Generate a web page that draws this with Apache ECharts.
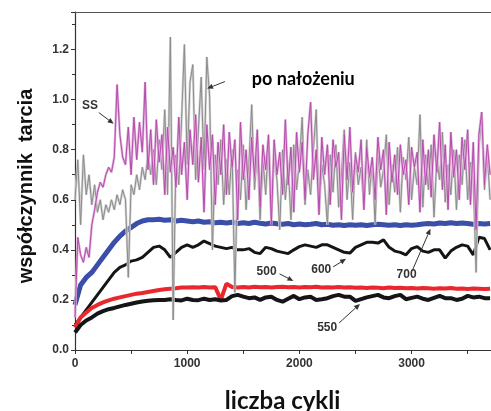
<!DOCTYPE html>
<html><head><meta charset="utf-8">
<script src="https://cdn.jsdelivr.net/npm/echarts@6/dist/echarts.min.js"></script>
<style>html,body{margin:0;padding:0;background:#fff}#c{width:491px;height:411px}</style>
</head><body><div id="c"></div>
<script>
const FINE_STEP = 25;
const COARSE_STEP = 50;

// SS (magenta), every 25 cycles from 0 to 3700
const ssValues = [
0.13,0.45,0.38,0.35,0.41,0.37,0.50,0.56,0.63,0.67,0.65,0.70,0.73,0.71,0.77,1.06,0.86,0.77,0.74,0.89,
0.70,0.93,0.76,0.91,0.79,1.07,0.72,0.88,0.66,0.92,0.75,0.86,0.62,0.89,0.71,0.81,0.65,0.93,0.70,0.83,
0.60,0.88,0.74,0.94,0.67,0.85,0.55,0.90,0.72,0.86,0.58,0.83,0.70,0.90,0.62,0.87,0.73,0.84,0.52,0.91,
0.68,0.80,0.60,0.85,0.69,0.88,0.57,0.82,0.72,0.86,0.50,0.84,0.70,0.79,0.62,0.92,0.66,0.81,0.55,0.87,
0.71,0.83,0.60,0.86,0.99,0.68,0.80,0.54,0.85,0.70,0.82,0.58,0.84,0.73,0.79,0.52,0.86,0.68,0.89,0.63,
0.78,0.71,0.84,0.56,0.81,0.69,0.77,0.60,0.85,0.72,0.80,0.54,0.83,0.67,0.78,0.62,0.82,0.70,0.76,0.58,
0.81,0.73,0.79,0.55,0.84,0.66,0.80,0.61,0.86,0.71,0.91,0.64,0.82,0.56,0.87,0.69,0.80,0.60,0.85,0.72,
0.88,0.58,0.83,0.48,0.86,0.95,0.66,0.82,0.70
];

// "po nałożeniu" (grey), every 25 cycles from 0 to 3700
const coatedValues = [
0.60,0.76,0.50,0.78,0.62,0.70,0.58,0.66,0.55,0.60,0.52,0.58,0.55,0.60,0.56,0.62,0.58,0.64,0.60,0.29,
0.66,0.62,0.70,0.64,0.73,0.68,0.78,0.70,0.80,0.66,0.84,0.72,0.96,0.62,1.25,0.12,0.78,0.66,0.92,1.22,
0.74,1.07,1.14,0.68,0.88,1.09,0.72,1.17,1.01,0.40,0.78,0.66,0.84,0.58,0.76,0.62,0.80,0.23,0.72,0.60,
0.82,0.56,0.74,0.98,0.64,0.80,0.52,0.76,0.62,0.84,0.55,0.78,0.68,0.48,0.80,0.60,0.74,0.52,0.82,0.64,
0.75,0.93,0.58,0.72,0.62,0.80,0.96,0.55,0.74,0.66,0.50,0.78,0.63,0.82,0.57,0.70,0.88,0.60,0.75,0.52,
0.79,0.66,0.73,0.58,0.84,0.62,0.76,0.50,0.80,0.65,0.72,0.86,0.58,0.74,0.63,0.81,0.55,0.77,0.68,0.85,
0.60,0.73,0.66,0.94,0.57,0.78,0.64,0.82,0.53,0.76,0.68,0.87,0.59,0.74,0.62,0.80,0.56,0.78,0.66,0.84,
0.60,0.75,0.68,0.31,0.80,0.95,0.64,0.78,0.60
];

// 700 (blue), every 50 cycles from 0 to 3700
const t700 = [
0.18,0.26,0.29,0.31,0.34,0.37,0.40,0.43,0.455,0.475,0.49,0.505,0.515,0.52,0.52,
0.522,0.518,0.52,0.515,0.518,0.515,0.512,0.515,0.51,0.512,0.508,0.51,0.507,0.51,0.505,
0.508,0.505,0.51,0.506,0.503,0.507,0.504,0.502,0.505,0.50,0.503,0.50,0.502,0.505,0.50,
0.502,0.498,0.50,0.497,0.50,0.498,0.50,0.497,0.50,0.502,0.50,0.498,0.50,0.497,0.50,
0.498,0.50,0.503,0.505,0.503,0.507,0.505,0.508,0.505,0.507,0.505,0.502,0.505,0.503,0.505
];
// 600 (black)
const t600 = [
0.10,0.13,0.16,0.19,0.22,0.25,0.28,0.31,0.33,0.34,0.355,0.36,0.37,0.39,0.41,
0.415,0.40,0.37,0.39,0.41,0.42,0.41,0.42,0.435,0.425,0.415,0.41,0.405,0.41,0.40,
0.40,0.405,0.39,0.385,0.41,0.405,0.395,0.39,0.385,0.40,0.413,0.42,0.415,0.41,0.42,
0.42,0.41,0.40,0.39,0.387,0.41,0.42,0.43,0.43,0.427,0.44,0.41,0.395,0.39,0.38,
0.405,0.413,0.395,0.39,0.40,0.40,0.367,0.395,0.41,0.42,0.415,0.38,0.45,0.445,0.40
];
// 500 (red)
const t500 = [
0.09,0.13,0.15,0.168,0.18,0.19,0.198,0.205,0.21,0.215,0.22,0.225,0.228,0.232,0.236,
0.24,0.243,0.245,0.247,0.25,0.25,0.251,0.25,0.252,0.25,0.251,0.20,0.265,0.252,0.25,
0.252,0.25,0.253,0.251,0.252,0.25,0.252,0.253,0.251,0.252,0.25,0.252,0.251,0.253,0.25,
0.251,0.25,0.252,0.25,0.251,0.249,0.25,0.248,0.25,0.249,0.247,0.25,0.248,0.249,0.247,
0.248,0.246,0.248,0.247,0.245,0.247,0.246,0.248,0.245,0.246,0.244,0.246,0.245,0.244,0.245
];
// 550 (black)
const t550 = [
0.07,0.10,0.118,0.13,0.145,0.155,0.163,0.168,0.174,0.18,0.185,0.19,0.194,0.197,0.199,
0.20,0.20,0.203,0.20,0.198,0.205,0.20,0.199,0.205,0.20,0.203,0.198,0.20,0.215,0.22,
0.213,0.207,0.21,0.20,0.21,0.213,0.20,0.193,0.205,0.216,0.203,0.21,0.213,0.20,0.203,
0.207,0.215,0.22,0.213,0.213,0.196,0.203,0.21,0.215,0.22,0.21,0.207,0.215,0.22,0.203,
0.208,0.213,0.205,0.20,0.208,0.216,0.207,0.207,0.20,0.205,0.216,0.21,0.213,0.207,0.207
];

const xTickLabels = ['0', '1000', '2000', '3000'];
const yTickLabels = ['0.0', '0.2', '0.4', '0.6', '0.8', '1.0', '1.2'];
const xTitle = 'liczba cykli';
const yTitle = 'współczynnik  tarcia';

// annotations: [text, [labelX, labelY], arrow from, arrow to] in data units
const notes = [
  ['SS', [133, 0.976], [212, 0.948], [345, 0.904]],
  ['500', [1708, 0.312], [1823, 0.304], [1947, 0.276]],
  ['600', [2195, 0.320], [2301, 0.332], [2416, 0.364]],
  ['700', [2956, 0.300], [3009, 0.320], [3168, 0.484]],
  ['550', [2248, 0.088], [2354, 0.108], [2540, 0.184]]
];
const coatedNote = ['po nałożeniu', [2035, 1.08], [1336, 1.072], [1177, 1.044]];

const chart = echarts.init(document.getElementById('c'), null, {renderer: 'canvas'});
const pairs = (vals, step) => vals.map((v, i) => [i * step, v]);

const axisColor = '#333';
const tickFont = {fontFamily: '"Liberation Sans", Arial, sans-serif', fontWeight: 'bold', fontSize: 12, color: '#333'};

function line(name, data, color, width, z) {
  return {name, type: 'line', data, showSymbol: false, symbol: 'none', z: z, silent: true,
    lineStyle: {color, width}, sampling: null};
}

const option = {
  animation: false,
  grid: {left: 75, right: -3, top: 12, bottom: 61, containLabel: false},
  xAxis: [{
    type: 'value', min: 0, max: 3708, interval: 1000,
    axisLine: {show: true, onZero: false, lineStyle: {color: axisColor, width: 1.2}},
    axisTick: {show: true, length: 4, lineStyle: {color: axisColor}},
    minorTick: {show: true, splitNumber: 2, length: 4, lineStyle: {color: axisColor}},
    splitLine: {show: false}, minorSplitLine: {show: false},
    axisLabel: Object.assign({}, tickFont, {margin: 8, showMaxLabel: false,
      formatter: v => { const i = Math.round(v / 1000); return Math.abs(v - i * 1000) < 1e-6 ? (xTickLabels[i] || '') : ''; }})
  }, {
    type: 'value', position: 'top', min: 0, max: 3708,
    axisLine: {show: true, onZero: false, lineStyle: {color: '#555', width: 1.2}},
    axisTick: {show: false}, axisLabel: {show: false}, splitLine: {show: false}
  }],
  yAxis: {
    type: 'value', min: 0, max: 1.35, interval: 0.2,
    axisLine: {show: true, onZero: false, lineStyle: {color: axisColor, width: 1.2}},
    axisTick: {show: true, length: 4, lineStyle: {color: axisColor}},
    minorTick: {show: true, splitNumber: 2, length: 3, lineStyle: {color: axisColor}},
    splitLine: {show: false}, minorSplitLine: {show: false},
    axisLabel: Object.assign({}, tickFont, {margin: 6, showMaxLabel: false,
      formatter: v => { const i = Math.round(v / 0.2); return Math.abs(v - i * 0.2) < 1e-6 ? (yTickLabels[i] || '') : ''; }})
  },
  series: [
    line('700', pairs(t700, COARSE_STEP), '#3b4fa8', 5, 2),
    line('600', pairs(t600, COARSE_STEP), '#151515', 3, 2),
    line('500', pairs(t500, COARSE_STEP), '#e8282c', 4, 2),
    line('550', pairs(t550, COARSE_STEP), '#151515', 4, 2),
    line('coatedHalo', pairs(coatedValues, FINE_STEP), '#d2d2d2', 2.4, 3),
    line('coated', pairs(coatedValues, FINE_STEP), '#8c8c8c', 1, 3),
    line('ssHalo', pairs(ssValues, FINE_STEP), '#e0b0db', 2.4, 4),
    line('ss', pairs(ssValues, FINE_STEP), '#b44cab', 1, 4)
  ]
};
chart.setOption(option);

function px(p) { return chart.convertToPixel({gridIndex: 0}, p); }
function arrowEls(from, to) {
  const a = px(from), b = px(to);
  const ang = Math.atan2(b[1] - a[1], b[0] - a[0]);
  const L = 6, W = 2.6;
  const bx = b[0] - L * Math.cos(ang), by = b[1] - L * Math.sin(ang);
  const nx = -Math.sin(ang) * W, ny = Math.cos(ang) * W;
  return [
    {type: 'line', shape: {x1: a[0], y1: a[1], x2: bx, y2: by}, style: {stroke: '#333', lineWidth: 1}, z: 10},
    {type: 'polygon', shape: {points: [[b[0], b[1]], [bx + nx, by + ny], [bx - nx, by - ny]]}, style: {fill: '#333'}, z: 10}
  ];
}
const g = [];
notes.forEach(n => {
  const p = px(n[1]);
  g.push({type: 'text', x: p[0], y: p[1], z: 10, style: {text: n[0], fill: '#333', font: 'bold 12px "Liberation Sans", Arial, sans-serif', textAlign: 'center', textVerticalAlign: 'middle'}});
  g.push(...arrowEls(n[2], n[3]));
});
{
  const p = px(coatedNote[1]);
  g.push({type: 'text', x: p[0], y: p[1], z: 10, style: {text: coatedNote[0], fill: '#000', font: 'bold 18px Lato, "Open Sans", sans-serif', textAlign: 'center', textVerticalAlign: 'middle'}});
  g.push(...arrowEls(coatedNote[2], coatedNote[3]));
}
// axis titles, centred on the plot like the reference
const xMid = px([1850, 0])[0];
g.push({type: 'text', x: xMid, y: 401, z: 10, style: {text: xTitle, fill: '#111', font: 'bold 24px Lato, "Open Sans", sans-serif', textAlign: 'center', textVerticalAlign: 'middle'}});
g.push({type: 'text', x: 26, y: 186, rotation: Math.PI / 2, z: 10, style: {text: yTitle, fill: '#111', font: 'bold 20px "Liberation Sans", Arial, sans-serif', textAlign: 'center', textVerticalAlign: 'middle'}});
chart.setOption({graphic: g});
</script>
</body></html>
